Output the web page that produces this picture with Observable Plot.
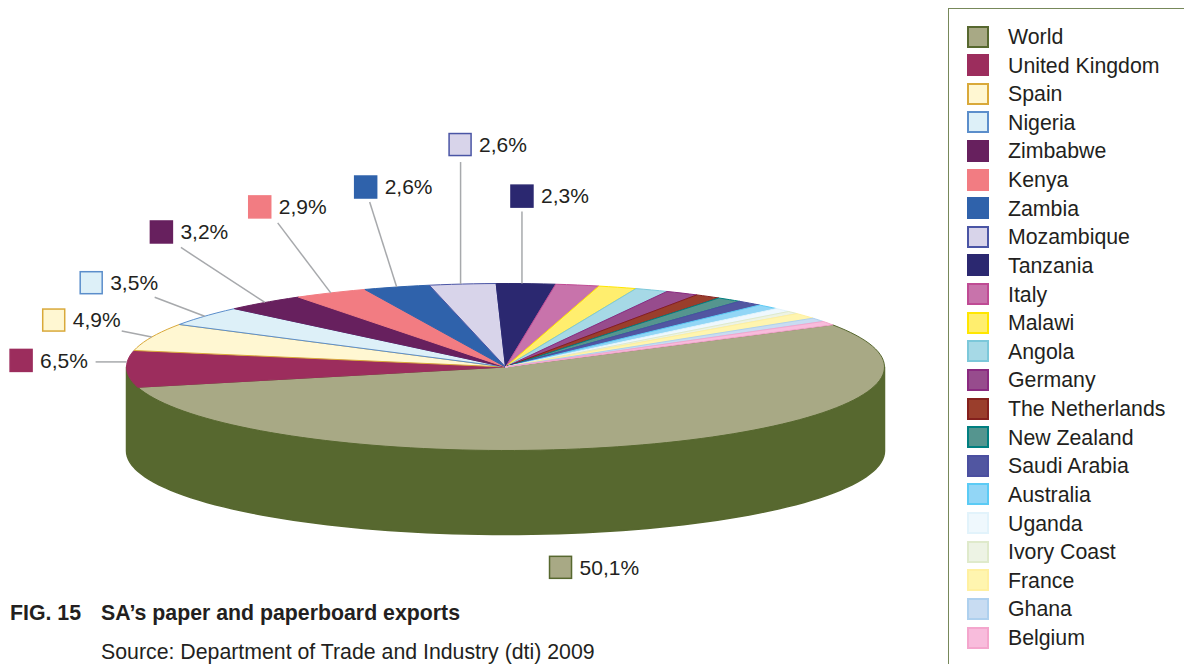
<!DOCTYPE html>
<html lang="en">
<head>
<meta charset="utf-8">
<title>SA's paper and paperboard exports</title>
<script src="https://cdn.jsdelivr.net/npm/d3@7"></script>
<script src="https://cdn.jsdelivr.net/npm/@observablehq/plot@0.6"></script>
<style>
  html, body { margin: 0; padding: 0; background: #fff; overflow: hidden; }
  #page {
    position: relative; width: 1184px; height: 664px; overflow: hidden;
    font-family: "Liberation Sans", Arial, sans-serif; color: #231f20;
  }
  #chart { position: absolute; left: 0; top: 0; }
  #chart svg { display: block; background: transparent; }
  #legend {
    position: absolute; left: 948px; top: 8px; width: 236px; height: 656px;
    box-sizing: border-box; border-left: 1.5px solid #77885a; border-top: 1.5px solid #77885a;
  }
  .entry { position: absolute; left: 0; height: 28px; width: 230px; font-size: 21.3px; line-height: 28px; }
  .entry i { position: absolute; left: 18px; top: 2.5px; width: 22px; height: 22px; box-sizing: border-box; border: 2px solid; }
  .entry span { position: absolute; left: 59px; white-space: nowrap; }
  #title { position: absolute; left: 10px; top: 601px; font-size: 21.3px; line-height: 24px; font-weight: bold; white-space: nowrap; }
  #title b { display: inline-block; width: 91px; }
  #source { position: absolute; left: 101px; top: 640px; font-size: 21.3px; line-height: 24px; white-space: nowrap; }
</style>
</head>
<body>
<div id="page">
  <div id="chart"></div>
  <div id="legend"></div>
  <div id="title"><b>FIG. 15</b>SA’s paper and paperboard exports</div>
  <div id="source">Source: Department of Trade and Industry (dti) 2009</div>
</div>
<script>
// Export destinations, in the order they run clockwise round the pie
const countries = ["World", "United Kingdom", "Spain", "Nigeria", "Zimbabwe", "Kenya", "Zambia", "Mozambique", "Tanzania",
  "Italy", "Malawi", "Angola", "Germany", "The Netherlands", "New Zealand", "Saudi Arabia", "Australia",
  "Uganda", "Ivory Coast", "France", "Ghana", "Belgium"];
const shares = [50.1, 6.5, 4.9, 3.5, 3.2, 2.9, 2.6, 2.6, 2.3,
  1.7, 1.5, 1.3, 1.3, 1.0, 1.0, 1.0, 0.9, 0.7, 0.5, 1.0, 0.7, 0.7];
const fills = ["#a8a985", "#9c2d5d", "#fff7d2", "#ddf0f8", "#67205e", "#f27c82", "#2f62ab", "#d8d4ea", "#2b2870",
  "#c873ab", "#ffee6e", "#a6d9e6", "#974c8d", "#9a3e2c", "#55958f", "#5156a1", "#92d6f6",
  "#eff8fd", "#edf3e4", "#fff5af", "#c8dcf2", "#f8bcdc"];
const strokes = ["#57682f", "#9c2d5d", "#d9a93a", "#5b8ecb", "#67205e", "#f27c82", "#2f62ab", "#4a55a5", "#2b2870",
  "#bf4b94", "#ffe600", "#7cc8da", "#8a2a80", "#84201d", "#007f80", "#4b4fa0", "#5bcbf5",
  "#e2f3fb", "#dfeacb", "#fff0a0", "#aed0ee", "#f4a6cd"];

// Only the nine largest slices carry a callout: [rim start dx, dy, elbow dx, dy, swatch dx, dy]
const callouts = [
  [0, 0, -87.5, 123.5, 0, 0],
  [0, -7, -31, -7, -74, -1],
  [0, 0, -30, -6, -67.5, -10.5],
  [0, 0, -50, -19, -63, -14],
  [0, 0, -84, -55, -19, -15],
  [0, 0, -53, -70, -17.5, -15.5],
  [0, 0, -27, -85, -3.5, -14.5],
  [-2, 0, -2, -122, 0, -17],
  [-4, 0, -4, -72, 0.5, -15]
];

// Pie geometry
const cx = 505, cy = 366.5, rx = 379, ry = 83.5, depth = 84;
const startAngle = 59.7;
const swatch = 11;
const total = d3.sum(shares);
const rim = (deg) => {
  const a = deg * Math.PI / 180;
  return { x: cx + rx * Math.sin(a), y: cy - ry * Math.cos(a) };
};

// Cumulative sweep of each slice
let running = startAngle;
const slices = countries.map((name, i) => {
  const sweep = shares[i] / total * 360;
  const s = { name, share: shares[i], fill: fills[i], stroke: strokes[i], from: running, to: running + sweep };
  running += sweep;
  return s;
});

// Each slice is a closed outline: centre, arc, centre
const outlines = slices.flatMap((s) => {
  const steps = Math.max(4, Math.ceil((s.to - s.from) / 2));
  const arc = d3.range(steps + 1).map((k) => rim(s.from + (s.to - s.from) * k / steps));
  return [{ x: cx, y: cy }, ...arc, { x: cx, y: cy }].map((p) => ({ ...p, name: s.name, fill: s.fill, stroke: s.stroke }));
});

// Visible side wall: the front half of the rim, extruded downwards
const frontRim = d3.range(90, 271, 2).map(rim);
const wall = [...frontRim, ...frontRim.slice().reverse().map((p) => ({ x: p.x, y: p.y + depth }))];

const labelled = callouts.map((c, i) => {
  const s = slices[i];
  const mid = rim((s.from + s.to) / 2);
  const px = mid.x + c[2], py = mid.y + c[3];
  const sx = px + c[4], sy = py + c[5];
  return { ...s, x1: mid.x + c[0], y1: mid.y + c[1], x2: px, y2: py, sx, sy,
           label: s.share.toFixed(1).replace(".", ",") + "%" };
});

const plot = Plot.plot({
  width: 948, height: 600, margin: 0,
  x: { domain: [0, 948], range: [0, 948], axis: null },
  y: { domain: [0, 600], range: [0, 600], axis: null },
  color: { type: "identity" },
  style: { fontFamily: "'Liberation Sans', Arial, sans-serif", background: "transparent" },
  marks: [
    Plot.line(wall.concat(wall[0]), { x: "x", y: "y", fill: "#57682f", stroke: "#57682f" }),
    Plot.line(outlines, { x: "x", y: "y", z: "name", fill: "fill", stroke: "stroke", strokeWidth: 1, strokeLinejoin: "round" }),
    Plot.link(labelled.slice(1), { x1: "x1", y1: "y1", x2: "x2", y2: "y2", stroke: "#a7a9ac", strokeWidth: 1.5 }),
    Plot.rect(labelled, {
      x1: (d) => d.sx - swatch, x2: (d) => d.sx + swatch,
      y1: (d) => d.sy - swatch, y2: (d) => d.sy + swatch,
      fill: "fill", stroke: "stroke", strokeWidth: 1.5
    }),
    Plot.text(labelled, {
      x: (d) => d.sx + swatch + 7.5, y: "sy", text: "label", textAnchor: "start",
      fontSize: 21, fill: "#231f20"
    })
  ]
});
document.getElementById("chart").append(plot);

// Key to every destination
const legend = document.getElementById("legend");
const legendTop = 14, legendStep = 28.62;
slices.forEach((s, i) => {
  const row = document.createElement("div");
  row.className = "entry";
  row.style.top = (legendTop + i * legendStep) + "px";
  const box = document.createElement("i");
  box.style.background = s.fill;
  box.style.borderColor = s.stroke;
  const name = document.createElement("span");
  name.textContent = s.name;
  row.append(box, name);
  legend.append(row);
});
</script>
</body>
</html>
